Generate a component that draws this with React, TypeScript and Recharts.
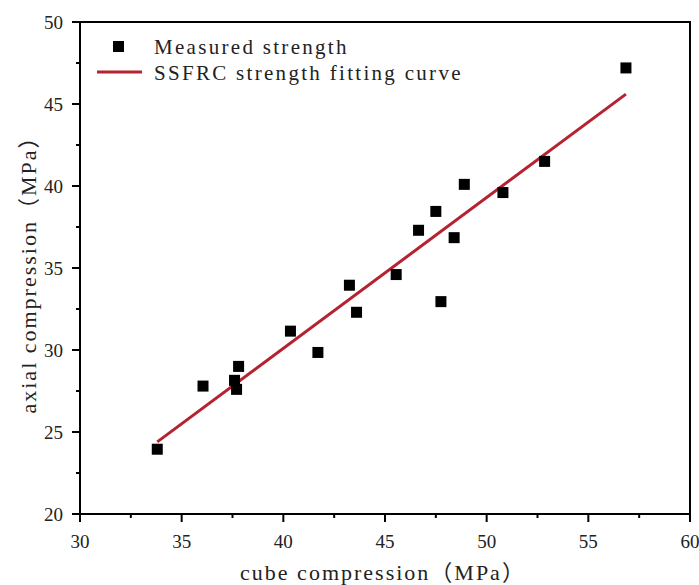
import React from 'react';
import { ComposedChart, Scatter, XAxis, YAxis, ZAxis, ReferenceArea } from 'recharts';

document.body.style.margin = '0';

const cubeStrength = [33.8, 36.05, 37.6, 37.7, 37.8, 40.35, 41.7, 43.25, 43.6, 45.55, 46.65, 47.5, 47.75, 48.4, 48.9, 50.8, 52.85, 56.85];
const axialStrength = [23.95, 27.8, 28.15, 27.6, 29.0, 31.15, 29.85, 33.95, 32.3, 34.6, 37.3, 38.45, 32.95, 36.85, 40.1, 39.6, 41.5, 47.2];

// fitted line endpoints
const fitX = [33.8, 56.85];
const fitY = [24.4, 45.6];

const xTicks = [30, 32.5, 35, 37.5, 40, 42.5, 45, 47.5, 50, 52.5, 55, 57.5, 60];
const yTicks = [20, 22.5, 25, 27.5, 30, 32.5, 35, 37.5, 40, 42.5, 45, 47.5, 50];

const measured = cubeStrength.map((x, i) => ({ x, y: axialStrength[i] }));
const fitted = fitX.map((x, i) => ({ x, y: fitY[i] }));

const FONT = '"Liberation Serif", "Noto Sans CJK SC", serif';
const RED = '#b52230';
const TEXT = '#222';

const isMajor = (v: number) => v % 5 === 0;

const XTick = (props: any) => {
  const { x, y, payload } = props;
  const major = isMajor(payload.value);
  return (
    <g>
      <line x1={x} x2={x} y1={y} y2={y + (major ? 8 : 4)} stroke="#000" strokeWidth={2} />
      {major && (
        <text x={x} y={y + 34} textAnchor="middle" fontFamily={FONT} fontSize={19} fill={TEXT}>
          {payload.value}
        </text>
      )}
    </g>
  );
};

const YTick = (props: any) => {
  const { x, y, payload } = props;
  const major = isMajor(payload.value);
  return (
    <g>
      <line x1={x} x2={x - (major ? 8 : 4)} y1={y} y2={y} stroke="#000" strokeWidth={2} />
      {major && (
        <text x={x - 17} y={y + 7} textAnchor="end" fontFamily={FONT} fontSize={19} fill={TEXT}>
          {payload.value}
        </text>
      )}
    </g>
  );
};

const Square = (props: any) => {
  const { cx, cy } = props;
  return <rect x={cx - 5.5} y={cy - 5.5} width={11} height={11} fill="#000" />;
};

export default function App() {
  return (
    <div style={{ position: 'relative', width: 699, height: 585, background: '#fff' }}>
      <ComposedChart width={699} height={585} margin={{ top: 22, right: 9, left: 0, bottom: 0 }}>
        <XAxis
          type="number"
          dataKey="x"
          domain={[30, 60]}
          ticks={xTicks}
          interval={0}
          height={71}
          tickSize={0}
          tickMargin={0}
          tickLine={false}
          tick={<XTick />}
          axisLine={{ stroke: '#000', strokeWidth: 2 }}
        />
        <YAxis
          type="number"
          dataKey="y"
          domain={[20, 50]}
          ticks={yTicks}
          interval={0}
          width={80}
          tickSize={0}
          tickMargin={0}
          tickLine={false}
          tick={<YTick />}
          axisLine={{ stroke: '#000', strokeWidth: 2 }}
        />
        <ZAxis range={[121, 121]} />
        <ReferenceArea x1={30} x2={60} y1={20} y2={50} fill="none" stroke="#000" strokeWidth={2} ifOverflow="visible" />
        <Scatter
          data={fitted}
          line={{ stroke: RED, strokeWidth: 3 }}
          shape={() => null}
          isAnimationActive={false}
        />
        <Scatter data={measured} shape={<Square />} isAnimationActive={false} />
      </ComposedChart>
      <div
        style={{
          position: 'absolute',
          left: 79,
          top: 21,
          width: 610,
          height: 492,
          borderTop: '2px solid #000',
          borderRight: '2px solid #000',
          zIndex: 11,
          pointerEvents: 'none',
        }}
      />
      <svg width={699} height={585} style={{ position: 'absolute', left: 0, top: 0, zIndex: 10 }}>
        <rect x={113} y={41} width={11} height={11} fill="#000" />
        <text x={154} y={54} fontFamily={FONT} fontSize={21} fill={TEXT} style={{ letterSpacing: 2.3 }}>
          Measured strength
        </text>
        <line x1={97} x2={142} y1={72} y2={72} stroke={RED} strokeWidth={3} />
        <text x={154} y={80} fontFamily={FONT} fontSize={21} fill={TEXT} style={{ letterSpacing: 2.3 }}>
          SSFRC strength fitting curve
        </text>
        <text x={383} y={580} textAnchor="middle" fontFamily={FONT} fontSize={22} fill={TEXT} style={{ letterSpacing: 2 }}>
          cube compression（MPa）
        </text>
        <text
          x={0}
          y={0}
          transform="translate(36,269) rotate(-90)"
          textAnchor="middle"
          fontFamily={FONT}
          fontSize={22}
          fill={TEXT}
          style={{ letterSpacing: 2 }}
        >
          axial compression（MPa）
        </text>
      </svg>
    </div>
  );
}
